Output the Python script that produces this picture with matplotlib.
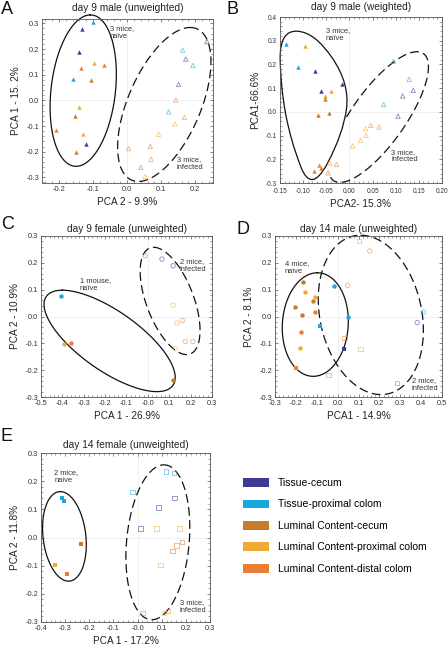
import numpy as np
import matplotlib
matplotlib.use("Agg")
from matplotlib import pyplot as plt
from matplotlib.path import Path
from matplotlib.patches import PathPatch, Patch

plt.rcParams['font.family'] = ['Liberation Sans', 'DejaVu Sans']
plt.rcParams['axes.unicode_minus'] = False

# sample groups
GROUPS = ["tc", "tp", "lc", "lp", "ld"]
GROUP_LABELS = ["Tissue-cecum", "Tissue-proximal colom", "Luminal Content-cecum",
                "Luminal Content-proximal colom", "Luminal Content-distal colom"]
GROUP_COLORS = {"tc": "#3b3a96", "tp": "#1ba6de", "lc": "#c77b2d",
                "lp": "#f2a934", "ld": "#ee7d34"}

# ---- A: day 9 male (unweighted) ----
a_naive_x = [-0.100, -0.132, -0.142, -0.136, -0.096, -0.067, -0.159, -0.105, -0.142, -0.154, -0.208, -0.129, -0.122, -0.149]
a_naive_y = [0.305, 0.278, 0.187, 0.128, 0.144, 0.138, 0.085, 0.079, -0.025, -0.060, -0.116, -0.130, -0.170, -0.201]
a_naive_g = ["tp", "tc", "tc", "ld", "lp", "ld", "tp", "lc", "lp", "lc", "ld", "lp", "tc", "lc"]
a_inf_x = [0.234, 0.163, 0.172, 0.193, 0.151, 0.143, 0.122, 0.168, 0.140, 0.092, 0.004, 0.068, 0.070, 0.040, 0.053]
a_inf_y = [0.229, 0.196, 0.161, 0.136, 0.062, 0.001, -0.045, -0.066, -0.092, -0.132, -0.188, -0.179, -0.229, -0.261, -0.297]
a_inf_g = ["tc", "tp", "tc", "tp", "tc", "ld", "tp", "ld", "lp", "lp", "ld", "lc", "ld", "lc", "lp"]

# ---- B: day 9 male (weighted) ----
b_naive_x = [-0.137, -0.096, -0.112, -0.074, -0.017, -0.062, -0.040, -0.053, -0.053, -0.067, -0.044, -0.065, -0.062, -0.076]
b_naive_y = [0.285, 0.276, 0.191, 0.172, 0.117, 0.087, 0.087, 0.066, 0.054, -0.014, -0.005, -0.224, -0.235, -0.251]
b_naive_g = ["tp", "lp", "tp", "tc", "tc", "tc", "lp", "lp", "lc", "lc", "lc", "ld", "lc", "ld"]
b_inf_x = [0.095, 0.129, 0.115, 0.138, 0.074, 0.105, 0.035, 0.046, 0.036, 0.064, 0.024, 0.007, -0.043, -0.028, -0.046]
b_inf_y = [0.213, 0.137, 0.067, 0.091, 0.031, -0.018, -0.071, -0.057, -0.099, -0.064, -0.120, -0.144, -0.215, -0.222, -0.257]
b_inf_g = ["tp", "tp", "tc", "tc", "tp", "tc", "lp", "ld", "lp", "ld", "lp", "lp", "ld", "ld", "lc"]

# ---- C: day 9 female (unweighted) ----
c_naive_x = [-0.408, -0.392, -0.359, 0.117]
c_naive_y = [0.075, -0.103, -0.100, -0.235]
c_naive_g = ["tp", "lp", "ld", "lc"]
c_inf_x = [-0.013, 0.066, 0.118, 0.118, 0.136, 0.161, 0.175, 0.211, 0.129]
c_inf_y = [0.227, 0.214, 0.189, 0.042, -0.024, -0.015, -0.093, -0.093, -0.120]
c_inf_g = ["tp", "tc", "tc", "lp", "lp", "ld", "ld", "ld", "lp"]

# ---- D: day 14 male (unweighted) ----
d_naive_x = [-0.167, -0.154, -0.110, -0.118, -0.204, -0.172, -0.110, -0.015, 0.050, -0.084, -0.175, -0.178, -0.199, 0.030]
d_naive_y = [0.127, 0.090, 0.073, 0.057, 0.036, 0.007, 0.017, 0.115, -0.001, -0.034, -0.059, -0.116, -0.191, -0.120]
d_naive_g = ["lc", "lp", "lp", "lc", "lc", "lc", "ld", "tp", "tp", "tp", "ld", "lp", "ld", "tc"]
d_naive_m = ["o", "o", "o", "o", "o", "o", "o", "o", "o", "s", "o", "o", "s", "s"]
d_inf_x = [0.102, 0.154, 0.048, 0.033, 0.110, -0.043, 0.411, 0.381, 0.285]
d_inf_y = [0.281, 0.244, 0.116, -0.080, -0.122, -0.218, 0.016, -0.023, -0.248]
d_inf_g = ["lp", "ld", "ld", "ld", "lp", "ld", "tp", "tc", "tp"]
d_inf_m = ["s", "o", "o", "s", "s", "s", "o", "o", "s"]

# ---- E: day 14 female (unweighted) ----
e_naive_x = [-0.314, -0.306, -0.235, -0.343, -0.291]
e_naive_y = [0.142, 0.129, -0.022, -0.098, -0.129]
e_naive_g = ["tp", "tp", "lc", "lp", "ld"]
e_inf_x = [0.119, 0.150, -0.021, 0.153, 0.086, 0.012, 0.079, 0.174, 0.185, 0.162, 0.145, 0.095, 0.021, 0.109, 0.126]
e_inf_y = [0.235, 0.229, 0.161, 0.141, 0.106, 0.032, 0.032, 0.032, -0.017, -0.029, -0.047, -0.098, -0.269, -0.267, -0.261]
e_inf_g = ["tp", "tp", "tp", "tc", "tc", "tc", "lp", "lp", "lc", "ld", "lc", "lp", "ld", "lp", "ld"]


def draw_points(ax, xs, ys, grps, marker, hollow, markers=None):
    for i in range(len(xs)):
        m = markers[i] if markers else marker
        col = GROUP_COLORS[grps[i]]
        if hollow:
            ax.scatter(xs[i], ys[i], s=10, marker=m, facecolors="none",
                       edgecolors=col, linewidths=0.6, alpha=0.6, zorder=3)
        else:
            ax.scatter(xs[i], ys[i], s=10, marker=m, color=col, linewidths=0, zorder=3)


def outline(ax, c, top, w, dashed, t0=0.0, t1=2 * np.pi):
    # ellipse through center c, topmost point 'top', half width w at center height
    t = np.linspace(t0, t1, 300)
    x = c[0] + (top[0] - c[0]) * np.cos(t) + w * np.sin(t)
    y = c[1] + (top[1] - c[1]) * np.cos(t)
    if dashed:
        ax.plot(x, y, color="#111111", lw=0.9, dashes=(7, 3.5), clip_on=False, zorder=2)
    else:
        ax.plot(x, y, color="#111111", lw=0.9, clip_on=False, zorder=2)


def smooth_shape(ax, ctrl):
    pts = np.array(ctrl)
    mids = (pts + np.roll(pts, -1, axis=0)) / 2
    verts = [mids[-1]]
    codes = [Path.MOVETO]
    for i in range(len(pts)):
        verts += [pts[i], mids[i]]
        codes += [Path.CURVE3, Path.CURVE3]
    ax.add_patch(PathPatch(Path(verts, codes), fill=False, lw=0.9,
                           edgecolor="#111111", clip_on=False, zorder=2))


def style_axes(ax, title, xl, yl, xlim, ylim, xticks, yticks, xfmt, pad, tsize=5.3, xpad=2):
    ax.set_xlim(xlim)
    ax.set_ylim(ylim)
    ax.set_xticks(xticks)
    ax.set_yticks(yticks)
    ax.set_xticklabels([xfmt % v for v in xticks])
    ax.set_yticklabels(["%.1f" % v for v in yticks])
    ax.minorticks_on()
    ax.tick_params(which="both", direction="in", top=True, right=True,
                   colors="#555555", labelcolor="#333333", labelsize=tsize, pad=2)
    ax.tick_params(axis="x", pad=xpad)
    ax.tick_params(which="major", length=2.5, width=0.5)
    ax.tick_params(which="minor", length=1.2, width=0.4)
    for s in ax.spines.values():
        s.set_color("#555555")
        s.set_linewidth(0.6)
    ax.axhline(0, color="#eeeeee", lw=0.6, zorder=0)
    ax.axvline(0, color="#eeeeee", lw=0.6, zorder=0)
    ax.set_title(title, fontsize=7.3, pad=pad, color="#222222")
    ax.set_xlabel(xl, fontsize=7.2, labelpad=3, color="#222222")
    ax.set_ylabel(yl, fontsize=7.2, labelpad=4, color="#222222")


def note(ax, x, y, s):
    ax.text(x, y, s, fontsize=5.4, va="top", ha="left", color="#333333", linespacing=1.15)


fig = plt.figure(figsize=(4.48, 6.51), dpi=100)
W, H = 448.0, 651.0

def add_axes(l, t, r, b):
    return fig.add_axes([l / W, 1 - b / H, (r - l) / W, (b - t) / H])

# Panel A
ax = add_axes(42, 19, 213, 183)
draw_points(ax, a_naive_x, a_naive_y, a_naive_g, "^", False)
draw_points(ax, a_inf_x, a_inf_y, a_inf_g, "^", True)
outline(ax, (-0.129, 0.038), (-0.108, 0.333), 0.095, False)
outline(ax, (0.109, -0.016), (0.185, 0.284), 0.114, True)
note(ax, -0.051, 0.294, "3 mice,\nnaive")
note(ax, 0.146, -0.217, "3 mice,\ninfected")
style_axes(ax, "day 9 male (unweighted)", "PCA 2 - 9.9%", "PCA 1 - 15. 2%",
           (-0.25, 0.252), (-0.322, 0.317), np.arange(-0.2, 0.21, 0.1),
           np.arange(-0.3, 0.31, 0.1), "%.1f", 6)

# Panel B
ax = add_axes(280, 17, 442, 183)
draw_points(ax, b_naive_x, b_naive_y, b_naive_g, "^", False)
draw_points(ax, b_inf_x, b_inf_y, b_inf_g, "^", True)
smooth_shape(ax, [(-0.1507, 0.3437), (-0.0753, 0.3367), (0.0008, 0.1187), (-0.0134, -0.0923),
                  (-0.0824, -0.3454), (-0.1272, -0.1204), (-0.1486, 0.1046)])
outline(ax, (0.0627, -0.022), (0.1459, 0.2537), 0.069, True, -np.pi / 2, np.radians(211))
note(ax, -0.051, 0.358, "3 mice,\nnaïve")
note(ax, 0.09, -0.155, "3 mice,\ninfected")
style_axes(ax, "day 9 male (weighted)", "PCA2- 15.3%", "PCA1-66.6%",
           (-0.15, 0.20), (-0.3, 0.4), np.arange(-0.15, 0.201, 0.05),
           np.arange(-0.3, 0.41, 0.1), "%.2f", 5, tsize=4.7, xpad=3.5)

# Panel C
ax = add_axes(41, 236, 212, 397)
draw_points(ax, c_naive_x, c_naive_y, c_naive_g, "o", False)
draw_points(ax, c_inf_x, c_inf_y, c_inf_g, "o", True)
outline(ax, (-0.179, -0.091), (-0.400, 0.098), 0.213, False)
outline(ax, (0.104, 0.058), (0.027, 0.258), 0.117, True)
note(ax, -0.318, 0.148, "1 mouse,\nnaïve")
note(ax, 0.148, 0.217, "2 mice,\ninfected")
style_axes(ax, "day 9 female (unweighted)", "PCA 1 - 26.9%", "PCA 2 - 10.9%",
           (-0.5, 0.3), (-0.3, 0.3), np.arange(-0.5, 0.31, 0.1),
           np.arange(-0.3, 0.31, 0.1), "%.1f", 3)

# Panel D
ax = add_axes(275, 236, 442, 397)
draw_points(ax, d_naive_x, d_naive_y, d_naive_g, "o", False, d_naive_m)
draw_points(ax, d_inf_x, d_inf_y, d_inf_g, "o", True, d_inf_m)
outline(ax, (-0.107, -0.030), (-0.097, 0.163), 0.158, False)
outline(ax, (0.159, 0.006), (0.110, 0.303), 0.247, True)
note(ax, -0.253, 0.21, "4 mice,\nnaive")
note(ax, 0.354, -0.226, "2 mice,\ninfected")
style_axes(ax, "day 14 male (unweighted)", "PCA1 - 14.9%", "PCA 2 - 8.1%",
           (-0.3, 0.5), (-0.3, 0.3), np.arange(-0.3, 0.51, 0.1),
           np.arange(-0.3, 0.31, 0.1), "%.1f", 3)

# Panel E
ax = add_axes(41, 453, 210, 622)
draw_points(ax, e_naive_x, e_naive_y, e_naive_g, "s", False)
draw_points(ax, e_inf_x, e_inf_y, e_inf_g, "s", True)
outline(ax, (-0.303, 0.004), (-0.320, 0.163), 0.089, False)
outline(ax, (0.084, -0.017), (0.109, 0.258), 0.130, True)
note(ax, -0.345, 0.243, "2 mice,\nnaive")
note(ax, 0.175, -0.219, "3 mice,\ninfected")
style_axes(ax, "day 14 female (unweighted)", "PCA 1 - 17.2%", "PCA 2 - 11.8%",
           (-0.4, 0.3), (-0.3, 0.3), np.arange(-0.4, 0.31, 0.1),
           np.arange(-0.3, 0.31, 0.1), "%.1f", 3.5)

# panel letters
for lab, px, py in [("A", 1, 1), ("B", 226, 1), ("C", 1, 216), ("D", 237, 221), ("E", 0, 428)]:
    fig.text(px / W, 1 - py / H, lab, fontsize=13, va="top", ha="left", color="#111111")

# legend
handles = [Patch(facecolor=GROUP_COLORS[g], edgecolor="none") for g in GROUPS]
fig.legend(handles, GROUP_LABELS, loc="upper left", bbox_to_anchor=(243 / W, 1 - 478 / H),
           frameon=False, fontsize=7.5, handlelength=2.5, handleheight=0.9,
           handletextpad=0.85, labelspacing=1.1, borderpad=0, borderaxespad=0)

plt.savefig("out.png", dpi=100)
